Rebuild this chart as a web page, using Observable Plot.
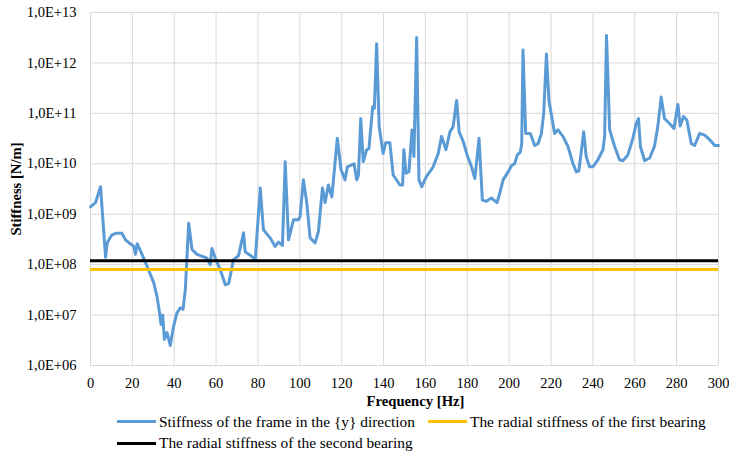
<!DOCTYPE html>
<html>
<head>
<meta charset="utf-8">
<script src="https://cdn.jsdelivr.net/npm/d3@7"></script>
<script src="https://cdn.jsdelivr.net/npm/@observablehq/plot@0.6"></script>
<style>
  body { margin: 0; background: #fff; }
  #chart svg { display: block; }
  #legend { position: relative; width: 729px; height: 45px; font-size: 15.4px; color: #000; }
  .item { position: absolute; display: flex; align-items: center; white-space: nowrap; transform: translateY(-50%); }
  .sw { display: inline-block; width: 39px; height: 3px; margin-right: 3px; }
</style>
</head>
<body>
<div id="chart"></div>
<div id="legend"></div>
<script>
// Frequency [Hz]
const freq = [0, 2.4, 4.8, 7.2, 8, 10, 12, 15, 16.7, 19, 20.7, 21.5, 22.3, 24.6, 27, 30.2, 31.8, 33, 33.7, 34.5,
  35.3, 36.6, 38.1, 39.7, 41.3, 42.9, 44.2, 45.3, 46.9, 48.5, 50.9, 55.6, 57.2, 58, 59.6, 62, 64.4, 66, 68.3, 70.7,
  73.1, 73.9, 77.1, 78.7, 81.1, 82.6, 85.8, 88.2, 89.8, 91.7, 93, 94.6, 97, 99.3, 100.1, 101.7, 103.3, 104.9, 107.3, 108.9,
  110.8, 112.1, 113.6, 115.3, 117.9, 119.7, 121.6, 122.7, 125.9, 127.2, 128, 129.1, 130.3, 131.9, 133, 134.8, 135.6, 136.7, 137.9, 139.8,
  141, 143, 144.6, 147.8, 149.1, 149.7, 150.7, 152.1, 153.6, 154.5, 155.8, 156.9, 158.2, 160.5, 163.7, 166.1, 167.7, 169.8, 171.7, 173.2,
  174.9, 176.1, 178, 179.9, 182, 183.6, 185.6, 187.2, 189.1, 191.5, 194.2, 195.5, 197.1, 199.5, 201.1, 202.6, 203.9, 205.3, 206, 206.6,
  207.9, 210.1, 212.2, 213.8, 215.4, 216.5, 217.8, 219, 221.7, 223.3, 225.7, 228.1, 230.5, 232.1, 233.3, 235.6, 236.8, 238.4, 240, 242.4,
  244.8, 245.6, 246.5, 248, 250.4, 252.7, 254.3, 256.7, 259.1, 260.7, 261.8, 262.7, 264.7, 267.1, 269.4, 271, 272.6, 274.2, 276.6, 278.7,
  280.6, 281.7, 283.3, 284.9, 287, 288.6, 291, 293.4, 295.8, 298.2, 300];
// Stiffness of the frame in the {y} direction [N/m]
const stiffness = [1.4e9, 1.7e9, 3.5e9, 1.4e8, 2.7e8, 3.8e8, 4.2e8, 4.2e8, 3.1e8, 2.6e8, 2.3e8, 1.6e8, 2.6e8, 1.6e8, 9.3e7, 4.4e7, 2.3e7, 1.1e7, 6.5e6, 1.0e7,
  3.3e6, 4.5e6, 2.5e6, 6.0e6, 1.1e7, 1.4e7, 1.3e7, 3.2e7, 6.6e8, 2.0e8, 1.6e8, 1.35e8, 1.0e8, 2.1e8, 1.35e8, 7.9e7, 4.0e7, 4.2e7, 1.26e8, 1.5e8,
  4.3e8, 1.8e8, 1.45e8, 1.26e8, 3.3e9, 4.9e8, 3.4e8, 2.3e8, 2.8e8, 2.4e8, 1.1e10, 3.1e8, 7.8e8, 7.8e8, 8.9e8, 4.8e9, 1.7e9, 3.4e8, 2.7e8, 4.6e8,
  3.3e9, 1.7e9, 3.8e9, 2.2e9, 3.2e10, 7.6e9, 4.8e9, 8.7e9, 1.0e10, 4.8e9, 6.0e9, 7.9e10, 1.1e10, 1.9e10, 2.0e10, 1.35e11, 1.26e11, 2.4e12, 5.4e10, 1.6e10,
  2.6e10, 2.6e10, 6.0e9, 3.8e9, 3.8e9, 1.9e10, 6.5e9, 6.9e9, 4.7e10, 1.4e10, 3.2e12, 4.8e9, 3.5e9, 5.6e9, 8.7e9, 1.6e10, 3.5e10, 1.9e10, 4.3e10, 5.4e10,
  1.8e11, 4.3e10, 2.8e10, 1.5e10, 8.7e9, 5.1e9, 3.2e10, 1.9e9, 1.8e9, 2.1e9, 1.7e9, 2.6e9, 4.8e9, 6.9e9, 9.1e9, 1.0e10, 1.5e10, 1.7e10, 2.5e10, 1.8e12,
  4.0e10, 4.0e10, 2.3e10, 2.5e10, 4.0e10, 1.0e11, 1.5e12, 1.8e11, 4.0e10, 4.7e10, 3.5e10, 2.2e10, 1.0e10, 6.9e9, 7.2e9, 4.3e10, 1.4e10, 8.7e9, 8.7e9, 1.2e10,
  1.9e10, 3.5e10, 3.5e12, 4.7e10, 2.2e10, 1.2e10, 1.15e10, 1.5e10, 3.2e10, 6.3e10, 7.9e10, 2.2e10, 1.15e10, 1.3e10, 2.2e10, 5.4e10, 2.1e11, 7.9e10, 6.3e10, 5.0e10,
  1.5e11, 5.6e10, 8.7e10, 7.4e10, 2.5e10, 2.3e10, 4.0e10, 3.7e10, 3.0e10, 2.3e10, 2.3e10];
// Bearing radial stiffness [N/m]
const bearing1 = 8e7;
const bearing2 = 1.2e8;

const seriesNames = ["Stiffness of the frame in the {y} direction", "The radial stiffness of the first bearing", "The radial stiffness of the second bearing"];
const seriesColors = ["#5b9bd5", "#ffc000", "#000000"];

const xTicks = [0, 20, 40, 60, 80, 100, 120, 140, 160, 180, 200, 220, 240, 260, 280, 300];
const yTicks = [1e6, 1e7, 1e8, 1e9, 1e10, 1e11, 1e12, 1e13];
const yTickLabels = ["1,0E+06", "1,0E+07", "1,0E+08", "1,0E+09", "1,0E+10", "1,0E+11", "1,0E+12", "1,0E+13"];
const xLabel = "Frequency [Hz]";
const yLabel = "Stiffness [N/m]";

const data = freq.map((f, i) => ({f, k: stiffness[i]}));
const font = '"Liberation Serif", "Times New Roman", serif';
const tickFs = 14.5;
const labelFs = 14.67;

const chart = Plot.plot({
  width: 729,
  height: 410,
  marginLeft: 90,
  marginRight: 11,
  marginTop: 12,
  marginBottom: 45,
  style: {fontFamily: font, fontSize: tickFs + "px", color: "#000", background: "#fff", overflow: "visible"},
  x: {domain: [0, 300], ticks: xTicks, label: null},
  y: {type: "log", domain: [1e6, 1e13], ticks: yTicks, label: null},
  marks: [
    Plot.gridX(xTicks, {stroke: "#d9d9d9", strokeOpacity: 1, strokeWidth: 1}),
    Plot.gridY(yTicks, {stroke: "#d9d9d9", strokeOpacity: 1, strokeWidth: 1}),
    Plot.axisX(xTicks, {tickSize: 0, tickPadding: 12, fontSize: tickFs, fill: "#000"}),
    Plot.axisY(yTicks, {tickSize: 0, tickPadding: 14, fontSize: tickFs, fill: "#000",
      tickFormat: d => yTickLabels[yTicks.indexOf(d)]}),
    Plot.line(data, {x: "f", y: "k", stroke: seriesColors[0], strokeWidth: 3, strokeLinejoin: "round", strokeLinecap: "round"}),
    Plot.ruleY([bearing1], {stroke: seriesColors[1], strokeWidth: 3}),
    Plot.ruleY([bearing2], {stroke: seriesColors[2], strokeWidth: 3}),
    Plot.text([xLabel], {frameAnchor: "bottom", dy: 36, dx: 11, fontWeight: "bold", fontSize: labelFs, textAnchor: "middle", lineAnchor: "middle", fill: "#000"}),
    Plot.text([yLabel], {frameAnchor: "left", dx: -74, rotate: -90, fontWeight: "bold", fontSize: labelFs, textAnchor: "middle", lineAnchor: "middle", fill: "#000"})
  ]
});
chart.style.fontFamily = font;
document.getElementById("chart").appendChild(chart);

const legend = document.getElementById("legend");
legend.style.fontFamily = font;
const itemPos = [[117, 11.7], [428, 11.7], [117, 33.3]];
seriesNames.forEach((name, i) => {
  const it = document.createElement("div");
  it.className = "item";
  it.style.left = itemPos[i][0] + "px";
  it.style.top = itemPos[i][1] + "px";
  const sw = document.createElement("span");
  sw.className = "sw";
  sw.style.background = seriesColors[i];
  it.appendChild(sw);
  const t = document.createElement("span");
  t.textContent = name;
  it.appendChild(t);
  legend.appendChild(it);
});
</script>
</body>
</html>
